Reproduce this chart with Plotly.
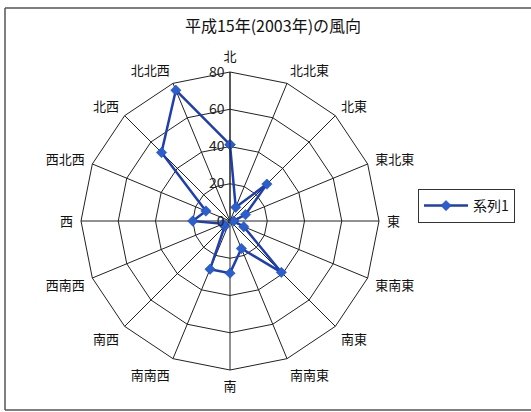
import plotly.graph_objects as go

# Wind direction frequencies for 2003, clockwise from north
directions = ["北", "北北東", "北東", "東北東", "東", "東南東", "南東", "南南東",
              "南", "南南西", "南西", "西南西", "西", "西北西", "北西", "北北西"]
counts = [41, 8, 28, 9, 2, 8, 39, 16, 28, 28, 4, 4, 20, 14, 52, 76]
radial_ticks = [0, 20, 40, 60, 80]

W, H = 531, 412
FONT = "Noto Sans CJK JP"

# close the loop back to the first direction
theta = directions + directions[:1]
r = counts + counts[:1]

fig = go.Figure()
fig.add_trace(go.Scatterpolar(
    r=r, theta=theta, mode="lines+markers", name="系列1", showlegend=True,
    line=dict(color="#1f3fae", width=2.5),
    marker=dict(symbol="diamond", size=8, color="#2a5fcf",
                line=dict(color="#1f3fae", width=0.5)),
))

cx, cy, rad = 230, 221, 149
fig.update_layout(
    width=W, height=H,
    margin=dict(l=0, r=0, t=0, b=0),
    paper_bgcolor="white",
    showlegend=True,
    font=dict(family=FONT, color="#111111", size=13),
    title=dict(text="平成15年(2003年)の風向", x=273 / W, xanchor="center",
               y=1 - 26 / H, yanchor="middle",
               font=dict(family=FONT, size=16, color="#111111")),
    polar=dict(
        domain=dict(x=[(cx - rad) / W, (cx + rad) / W],
                    y=[(H - cy - rad) / H, (H - cy + rad) / H]),
        bgcolor="white",
        gridshape="linear",
        angularaxis=dict(
            rotation=90, direction="clockwise",
            categoryorder="array", categoryarray=directions,
            linecolor="#222222", linewidth=1,
            gridcolor="#222222", gridwidth=1,
            ticks="outside", ticklen=5, tickcolor="rgba(0,0,0,0)",
            tickfont=dict(family=FONT, size=13, color="#111111"),
        ),
        radialaxis=dict(
            range=[0, 80], tickvals=radial_ticks,
            angle=90, tickangle=90, side="counterclockwise",
            showline=True, linecolor="#222222", linewidth=1,
            gridcolor="#222222", gridwidth=1,
            ticks="", tickfont=dict(family=FONT, size=14, color="#222222"),
        ),
    ),
    legend=dict(
        x=418 / W, y=1 - 189 / H, xanchor="left", yanchor="top",
        bordercolor="#333333", borderwidth=1, bgcolor="white",
        itemwidth=44,
        font=dict(family=FONT, size=14, color="#111111"),
    ),
    shapes=[
        dict(type="line", xref="paper", yref="paper",
             x0=5 / W, x1=1.05, y0=1 - 8 / H, y1=1 - 8 / H,
             line=dict(color="#555555", width=1.5)),
        dict(type="line", xref="paper", yref="paper",
             x0=5 / W, x1=5 / W, y0=1 - 8 / H, y1=1 - 410 / H,
             line=dict(color="#555555", width=1.5)),
        dict(type="line", xref="paper", yref="paper",
             x0=5 / W, x1=1.05, y0=1 - 410 / H, y1=1 - 410 / H,
             line=dict(color="#555555", width=1.5)),
    ],
)

fig.write_html("out.html")
